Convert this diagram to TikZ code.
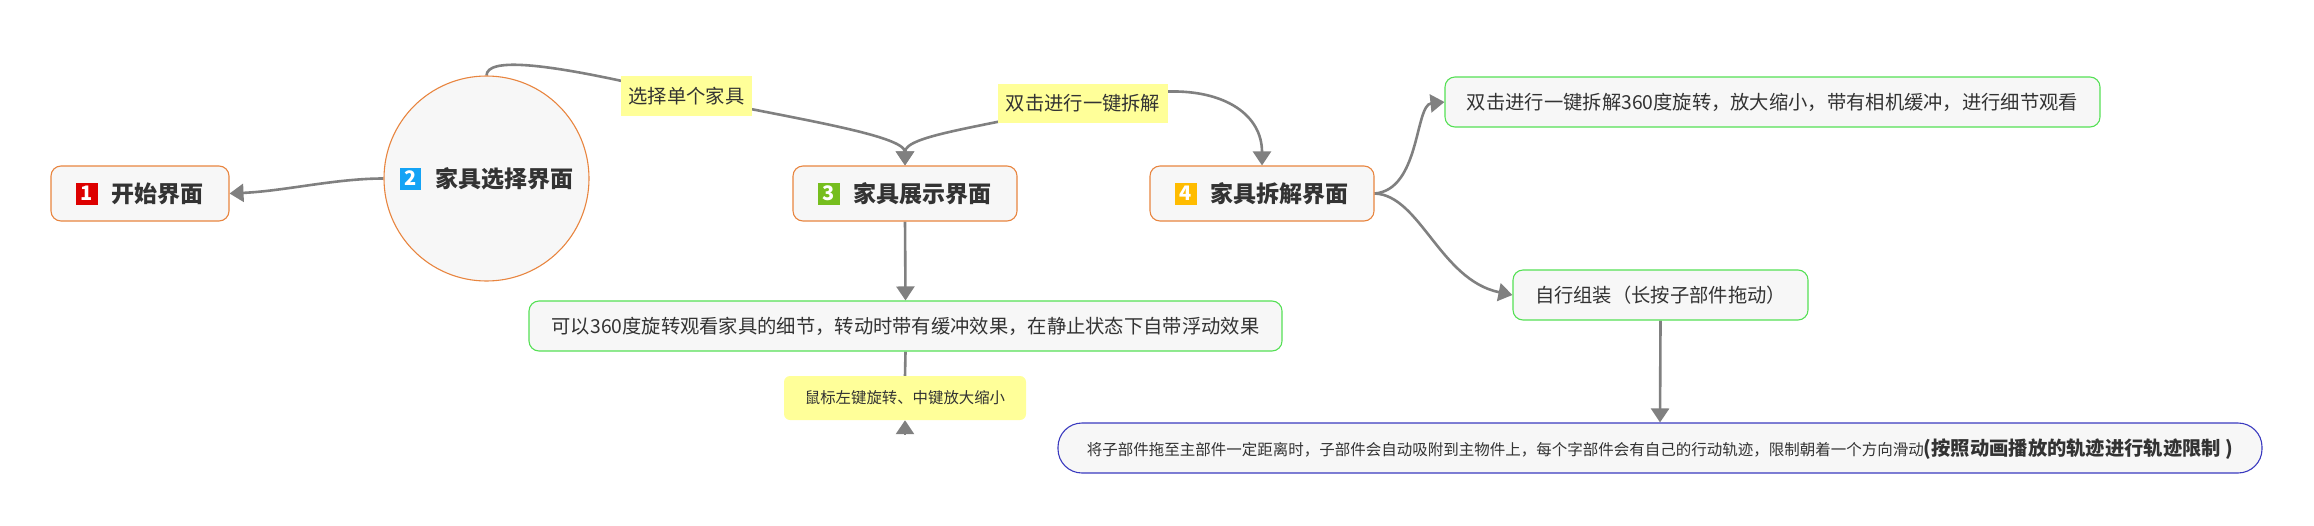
\documentclass[tikz,border=0pt]{standalone}
\usepackage{fontspec}
\usetikzlibrary{arrows.meta,backgrounds}
\setmainfont{Noto Sans CJK SC}
\definecolor{linegray}{HTML}{808080}
\definecolor{boxfill}{HTML}{F7F7F7}
\definecolor{inktext}{HTML}{333333}
\definecolor{noteyellow}{HTML}{FFFF99}
\definecolor{edgeorange}{HTML}{E8853F}
\definecolor{edgegreen}{HTML}{55E055}
\definecolor{edgeblue}{HTML}{3A3ABF}
\definecolor{badgered}{HTML}{DD0000}
\definecolor{badgeblue}{HTML}{14A3F5}
\definecolor{badgegreen}{HTML}{76BE1E}
\definecolor{badgeyellow}{HTML}{FFBC00}
\newcommand{\numbadge}[2]{\raisebox{2.2pt}{\setlength{\fboxsep}{0pt}\colorbox{#1}{\makebox[21.5pt]{\rule[-4.5pt]{0pt}{22pt}\color{white}\fontsize{20}{20}\selectfont\bfseries #2}}}\hspace{14pt}}
\begin{document}
\begin{tikzpicture}[x=1pt,y=-1pt]
  \tikzstyle{screen} = [draw=edgeorange,fill=boxfill,text=inktext,line width=1.1pt,rounded corners=10pt,
    inner sep=0pt,minimum height=55pt,text height=20pt,text depth=2.6pt,font=\fontsize{23}{28}\selectfont\bfseries]
  \tikzstyle{detail} = [draw=edgegreen,fill=boxfill,text=inktext,line width=1.1pt,rounded corners=10pt,
    inner sep=0pt,minimum height=50pt,text height=16pt,text depth=1.4pt,font=\fontsize{19.3}{24}\selectfont]
  \tikzstyle{notice} = [fill=noteyellow,text=inktext,inner sep=0pt,text height=16pt,text depth=1.4pt,
    font=\fontsize{19.3}{24}\selectfont]
  \tikzstyle{flow} = [draw=linegray,line width=2.6pt]
  \tikzstyle{tip} = [-{Triangle[length=14pt,width=18pt]}]
  \useasboundingbox (0,0) rectangle (2314,525);
  % screens
  \node[screen,minimum width=178pt] (start) at (140,193.5) {\numbadge{badgered}{1}开始界面};
  \node[screen,circle,minimum size=205pt] (choose) at (486.5,178.5) {\numbadge{badgeblue}{2}家具选择界面};
  \node[screen,minimum width=224pt] (show) at (905,193.5) {\numbadge{badgegreen}{3}家具展示界面};
  \node[screen,minimum width=224pt] (split) at (1262,193.5) {\numbadge{badgeyellow}{4}家具拆解界面};
  % details
  \node[detail,minimum width=753pt] (rotate) at (905.5,326) {可以360度旋转观看家具的细节，转动时带有缓冲效果，在静止状态下自带浮动效果};
  \node[detail,minimum width=655pt] (camera) at (1772.5,102) {双击进行一键拆解360度旋转，放大缩小，带有相机缓冲，进行细节观看};
  \node[detail,minimum width=295pt] (build) at (1660.5,295) {自行组装（长按子部件拖动）};
  \node[detail,draw=edgeblue,rounded corners=24pt,minimum width=1204pt] (snap) at (1660,448)
    {\fontsize{15.5}{20}\selectfont 将子部件拖至主部件一定距离时，子部件会自动吸附到主物件上，每个字部件会有自己的行动轨迹，限制朝着一个方向滑动{\fontsize{19.3}{24}\selectfont\bfseries(按照动画播放的轨迹进行轨迹限制 )}};
  % yellow labels
  \node[notice,minimum width=131pt,minimum height=40pt] (pick) at (686.5,96) {选择单个家具};
  \node[notice,minimum width=170pt,minimum height=39pt] (twice) at (1083,103.5) {双击进行一键拆解};
  \node[notice,rounded corners=6pt,minimum width=242pt,minimum height=44pt,text height=12.5pt,text depth=1.2pt,
    font=\fontsize{15.4}{20}\selectfont] (mouse) at (905,398) {鼠标左键旋转、中键放大缩小};
  \coordinate (mousefoot) at (905,434);
  % connectors
  \begin{scope}[on background layer]
    \draw[flow,tip] (choose.west) .. controls (335,178.5) and (285,191) .. (start.east);
    \draw[flow] (choose.north) .. controls (487,58) and (540,60) .. (pick.center);
    \draw[flow,tip] (pick.center) .. controls (790,118) and (905,135) .. (show.north);
    \draw[flow,tip] (twice.center) .. controls (985,127) and (905,135) .. (show.north);
    \draw[flow,tip] (twice.8) .. controls (1225,90) and (1262,115) .. (split.north);
    \draw[flow,tip] (split.east) .. controls (1420,190) and (1415,105) .. (camera.west);
    \draw[flow,tip] (split.east) .. controls (1420,195) and (1440,280) .. (build.west);
    \draw[flow,tip] (show.south) -- (rotate.north);
    \draw[flow] (rotate.south) -- (mouse.north);
    \draw[flow,tip] (mousefoot) -- (mouse.south);
    \draw[flow,tip] (build.south) -- (snap.north);
  \end{scope}
\end{tikzpicture}
\end{document}
